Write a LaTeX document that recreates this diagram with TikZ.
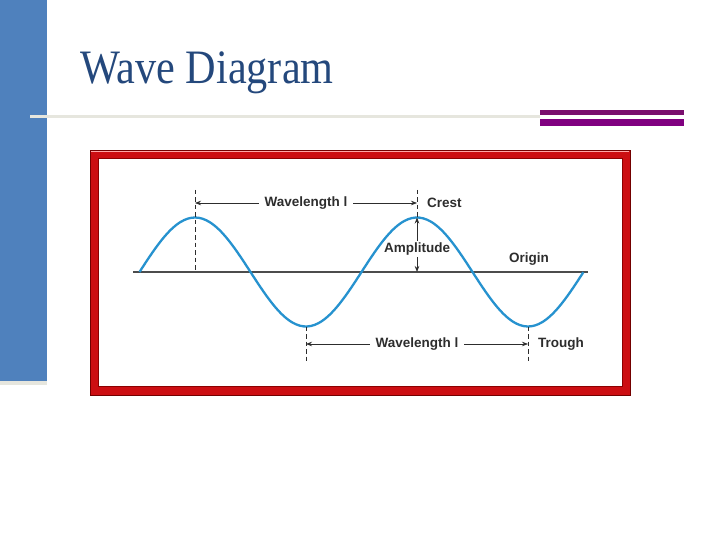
\documentclass[tikz,border=0pt]{standalone}
\usepackage{fontspec}
\setmainfont{Liberation Sans}
\newfontfamily\titlefont[FakeStretch=0.88]{Liberation Serif}
\usetikzlibrary{arrows.meta}
\definecolor{barblue}{RGB}{79,129,189}
\definecolor{titleblue}{RGB}{36,72,124}
\definecolor{rulegray}{RGB}{230,230,222}
\definecolor{plumA}{RGB}{122,14,110}
\definecolor{plumB}{RGB}{128,0,128}
\definecolor{framered}{RGB}{204,14,18}
\definecolor{wavecol}{RGB}{38,146,207}
\definecolor{inkgray}{RGB}{45,45,45}
\tikzset{
  lbl/.style={
    font=\fontsize{13.5}{15}\selectfont\bfseries,
    text=inkgray,
    inner sep=2pt
  },
  title/.style={
    font=\titlefont\fontsize{48}{52}\selectfont,
    text=titleblue,
    inner sep=0pt
  },
  guide/.style={draw=inkgray, dash pattern=on 4.5pt off 3pt, line width=1pt},
  dimarrow/.style={-{Stealth[length=6pt,width=4.5pt]}, draw=inkgray, line width=0.7pt},
  dimboth/.style={{Stealth[length=6pt,width=4.5pt]}-{Stealth[length=6pt,width=4.5pt]}, draw=inkgray, line width=0.7pt},
  wave/.style={draw=wavecol, line width=2.3pt},
  axis/.style={draw=gray!60!black, line width=1.4pt}
}

\begin{document}
\begin{tikzpicture}[x=1pt, y=-1pt]
\useasboundingbox (0,0) rectangle (720,540);

% Slide frame
\fill[barblue] (0,0) rectangle (47,381);
\fill[rulegray] (0,381) rectangle (47,385);
\draw[rulegray, line width=3pt] (30,117) -- (540,117);
\fill[plumA] (540,110) rectangle (684,115.5);
\fill[plumB] (540,119.5) rectangle (684,126.5);
\node[title, anchor=base west] (title) at (80,84) {Wave Diagram};

% Picture box
\fill[framered] (90,150) rectangle (630,395);
\draw[red!35!white, line width=1.5pt] (91,151) -- (629,151);
\draw[red!45!black, line width=0.8pt] (90,150) rectangle (630,395);
\fill[white] (98,158) rectangle (622,386);
\draw[red!55!black, line width=0.6pt] (98,158) rectangle (622,386);

% Points of the wave
\coordinate (axisL) at (133,272);
\coordinate (axisR) at (588,272);
\coordinate (crestA) at (195,217.5);
\coordinate (crestB) at (417,217.5);
\coordinate (troughA) at (306,326.5);
\coordinate (troughB) at (528,326.5);
\coordinate (topA) at (195,190);
\coordinate (topB) at (417,190);
\coordinate (baseA) at (195,272);
\coordinate (baseB) at (417,272);
\coordinate (lowA) at (306,362);
\coordinate (lowB) at (528,362);

\draw[axis] (axisL) -- (axisR);
\draw[wave] plot[domain=0:2, samples=120, smooth] ({139.5+222*\x}, {272-54.5*sin(360*\x)});

% Guides and labels
\draw[guide] (topA) -- (baseA);
\draw[guide] (topB) -- (crestB);
\draw[guide] (troughA) -- (lowA);
\draw[guide] (troughB) -- (lowB);

\coordinate (wlA) at (195,203);
\coordinate (wlB) at (417,203);
\coordinate (wlC) at (306,344);
\coordinate (wlD) at (528,344);
\draw[dimboth] (wlA) -- node[lbl, fill=white, inner xsep=6pt] (wavetop) {Wavelength l} (wlB);
\draw[dimboth] (wlC) -- node[lbl, fill=white, inner xsep=6pt] (wavelow) {Wavelength l} (wlD);

\node[lbl, anchor=west] (crest) at ([xshift=8pt]wlB) {Crest};
\node[lbl, anchor=west] (trough) at ([xshift=8pt]wlD) {Trough};
\node[lbl] (origin) at (529,259) {Origin};
\node[lbl] (amp) at (417,249) {Amplitude};
\draw[dimarrow] (amp.north) -- (crestB);
\draw[dimarrow] (amp.south) -- (baseB);

\end{tikzpicture}
\end{document}
